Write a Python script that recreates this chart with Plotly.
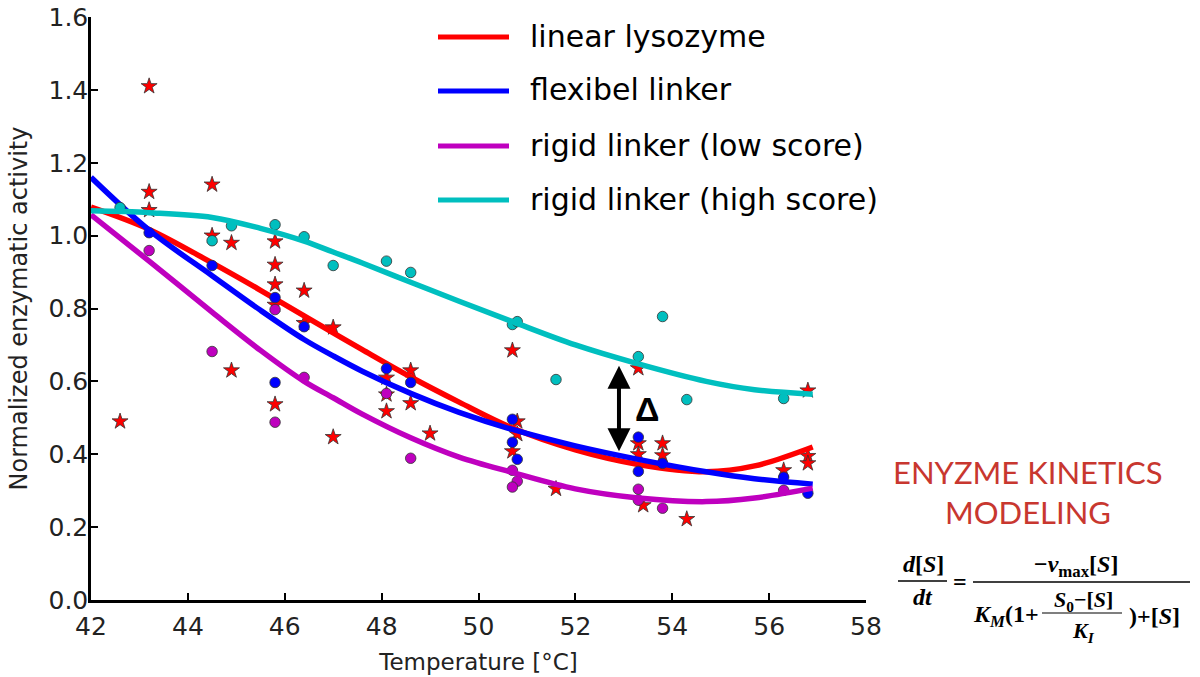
import plotly.graph_objects as go

# ---------------- data ----------------
# red stars: linear lysozyme measurements
lin_x = [42.6, 43.2, 43.2, 43.2, 44.5, 44.5, 44.9, 44.9, 45.8, 45.8, 45.8, 45.8, 45.8,
         46.4, 46.4, 47.0, 47.0, 48.1, 48.1, 48.1, 48.6, 48.6, 49.0, 50.7, 50.8, 50.8,
         50.7, 51.6, 53.3, 53.3, 53.3, 53.4, 53.8, 53.8, 54.3, 56.3, 56.8, 56.8, 56.8]
lin_y = [0.49, 1.41, 1.12, 1.07, 1.14, 1.00, 0.98, 0.63, 0.984, 0.92, 0.866, 0.81, 0.537,
         0.849, 0.76, 0.748, 0.447, 0.61, 0.564, 0.518, 0.63, 0.54, 0.457, 0.685, 0.49, 0.455,
         0.408, 0.305, 0.636, 0.43, 0.40, 0.26, 0.43, 0.397, 0.222, 0.356, 0.395, 0.375, 0.575]

flex_x = [43.2, 44.5, 45.8, 45.8, 46.4, 48.1, 48.6, 50.7, 50.7, 50.8, 53.3, 53.3, 53.8, 56.3, 56.8]
flex_y = [1.008, 0.918, 0.83, 0.597, 0.75, 0.635, 0.597, 0.496, 0.433, 0.386, 0.447, 0.353, 0.375, 0.337, 0.293]

low_x = [43.2, 44.5, 45.8, 45.8, 46.4, 48.1, 48.6, 50.7, 50.8, 50.7, 53.3, 53.3, 53.8, 56.3]
low_y = [0.959, 0.682, 0.797, 0.488, 0.611, 0.567, 0.389, 0.356, 0.326, 0.31, 0.304, 0.274, 0.252, 0.301]

high_x = [42.6, 44.5, 44.9, 45.8, 46.4, 47.0, 48.1, 48.6, 50.7, 50.8, 51.6, 53.3, 53.8, 54.3, 56.3]
high_y = [1.077, 0.986, 1.027, 1.03, 0.997, 0.918, 0.93, 0.899, 0.756, 0.764, 0.605, 0.668, 0.778, 0.55, 0.553]

# fitted curves
fit_x = [42.0, 43.2, 44.5, 45.5, 46.4, 47.0, 47.6, 48.6, 49.6, 50.7, 52.0, 53.3, 54.7, 55.7, 56.9]
fit_lin = [1.078, 1.017, 0.925, 0.85, 0.78, 0.733, 0.687, 0.612, 0.543, 0.472, 0.412, 0.372, 0.352, 0.368, 0.42]
fit_flex = [1.16, 1.015, 0.89, 0.795, 0.715, 0.67, 0.628, 0.567, 0.515, 0.468, 0.423, 0.386, 0.352, 0.333, 0.318]
fit_low = [1.057, 0.93, 0.79, 0.685, 0.60, 0.555, 0.51, 0.445, 0.392, 0.35, 0.305, 0.28, 0.27, 0.28, 0.307]
fit_high = [1.068, 1.063, 1.05, 1.02, 0.985, 0.955, 0.925, 0.872, 0.82, 0.764, 0.70, 0.648, 0.60, 0.577, 0.565]

series_names = ["linear lysozyme", "flexibel linker", "rigid linker (low score)", "rigid linker (high score)"]
series_colors = ["#ff0000", "#0000ff", "#bf00bf", "#00bfbf"]

x_ticks = [42, 44, 46, 48, 50, 52, 54, 56, 58]
y_ticks = [0.0, 0.2, 0.4, 0.6, 0.8, 1.0, 1.2, 1.4, 1.6]

delta_x = 52.9
delta_lo, delta_hi = 0.408, 0.647

# ---------------- figure ----------------
W, H = 1200, 677
L, R, T, B = 91, 334, 17, 77
PW, PH = W - L - R, H - T - B


def P(px, py):
    return (px - L) / PW, (H - B - py) / PH


fig = go.Figure()
edge = dict(color="#333333", width=0.8)

marker_sets = [
    (lin_x, lin_y, "star", 12),
    (flex_x, flex_y, "circle", 10.5),
    (low_x, low_y, "circle", 10.5),
    (high_x, high_y, "circle", 10.5),
]
fits = [fit_lin, fit_flex, fit_low, fit_high]

for (mx, my, sym, sz), fy, name, col in zip(marker_sets, fits, series_names, series_colors):
    fig.add_trace(go.Scatter(x=mx, y=my, mode="markers", showlegend=False,
                             marker=dict(symbol=sym, size=sz, color=col, line=edge)))
    fig.add_trace(go.Scatter(x=fit_x, y=fy, mode="lines", name=name, showlegend=False,
                             line=dict(color=col, width=5.5, shape="spline", smoothing=1.0)))

fig.update_xaxes(range=[42, 58], tickvals=x_ticks, ticktext=[str(v) for v in x_ticks],
                 automargin=False, ticklabelstandoff=2,
                 showline=True, linecolor="black", linewidth=2.5, ticks="inside",
                 ticklen=7, tickwidth=1.5, tickcolor="black", showgrid=False, zeroline=False,
                 tickfont=dict(family="DejaVu Sans", size=25, color="#222222"),
                 title=dict(text="Temperature [°C]",
                            font=dict(family="DejaVu Sans", size=23, color="#222222")))
fig.update_yaxes(range=[0, 1.6], tickvals=y_ticks, ticktext=[f"{v:.1f}" for v in y_ticks],
                 automargin=False, ticklabelstandoff=-5,
                 showline=True, linecolor="black", linewidth=2.5, ticks="inside",
                 ticklen=7, tickwidth=1.5, tickcolor="black", showgrid=False, zeroline=False,
                 tickfont=dict(family="DejaVu Sans", size=25, color="#222222"),
                 title=dict(text="Normalized enzymatic activity",
                            font=dict(family="DejaVu Sans", size=24, color="#222222")))

shapes = []
annotations = []

# legend (manual)
legend_rows = [37, 91, 146, 200]
for yrow, name, col in zip(legend_rows, series_names, series_colors):
    x0, y0 = P(438, yrow)
    x1, _ = P(509, yrow)
    shapes.append(dict(type="line", xref="paper", yref="paper", x0=x0, x1=x1, y0=y0, y1=y0,
                       line=dict(color=col, width=5)))
    tx, ty = P(528, yrow - 1)
    annotations.append(dict(xref="paper", yref="paper", x=tx, y=ty, xanchor="left", yanchor="middle",
                            text=name, showarrow=False,
                            font=dict(family="DejaVu Sans", size=30, color="black")))

# delta arrow
annotations.append(dict(x=delta_x, y=delta_lo, ax=delta_x, ay=delta_hi, xref="x", yref="y",
                        axref="x", ayref="y", text="", showarrow=True, arrowside="end+start",
                        arrowhead=2, startarrowhead=2, arrowsize=1.15, startarrowsize=1.15,
                        arrowwidth=4, arrowcolor="black", standoff=0, startstandoff=0))
annotations.append(dict(x=53.47, y=0.523, xref="x", yref="y", text="<b>Δ</b>", showarrow=False,
                        font=dict(family="Liberation Sans", size=34, color="black")))

# right-hand text
red = "#c8372f"
for txt, py in [("ENYZME KINETICS", 472), ("MODELING", 512)]:
    ax_, ay_ = P(1028, py)
    annotations.append(dict(xref="paper", yref="paper", x=ax_, y=ay_, text=txt, showarrow=False,
                            xanchor="center", yanchor="middle",
                            font=dict(family="Lato", size=31, color=red)))

# equation
eqf = dict(family="Liberation Serif", size=24, color="black")
eqs = dict(family="Liberation Serif", size=22, color="black")
eq_parts = [
    ("<b><i>d</i>[<i>S</i>]</b>", 923, 564, eqf),
    ("<b><i>dt</i></b>", 923, 597, eqf),
    ("<b>=</b>", 960, 582, eqf),
    ("<b>−<i>v</i><sub>max</sub>[<i>S</i>]</b>", 1076, 566, eqf),
    ("<b><i>K</i><sub><i>M</i></sub>(1+</b>", 1006, 616, eqf),
    ("<b><i>S</i><sub>0</sub>−[<i>S</i>]</b>", 1083, 601, eqs),
    ("<b><i>K</i><sub><i>I</i></sub></b>", 1083, 632, eqs),
    ("<b>)+[<i>S</i>]</b>", 1154, 616, eqf),
]
for txt, px, py, f in eq_parts:
    ex, ey = P(px, py)
    annotations.append(dict(xref="paper", yref="paper", x=ex, y=ey, text=txt, showarrow=False,
                            xanchor="center", yanchor="middle", font=f))
for xa, xb, yy, w in [(898, 947, 581, 1.5), (973, 1190, 582, 1.5), (1042, 1122, 613, 1.2)]:
    a0, b0 = P(xa, yy)
    a1, _ = P(xb, yy)
    shapes.append(dict(type="line", xref="paper", yref="paper", x0=a0, x1=a1, y0=b0, y1=b0,
                       line=dict(color="black", width=w)))

fig.update_layout(width=W, height=H, margin=dict(l=L, r=R, t=T, b=B, autoexpand=False),
                  paper_bgcolor="white", plot_bgcolor="white",
                  shapes=shapes, annotations=annotations, showlegend=False)

fig.write_html("out.html", config={"displayModeBar": False},
               post_script="document.body.style.margin='0px';document.body.style.overflow='hidden';")
